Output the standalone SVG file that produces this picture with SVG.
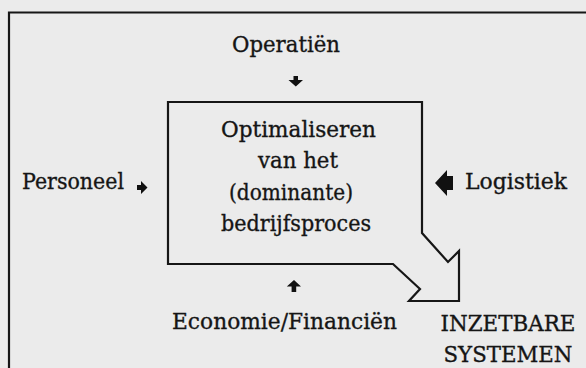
<svg xmlns="http://www.w3.org/2000/svg" width="586" height="368" viewBox="0 0 586 368">
<style>
.t{font-family:"DejaVu Serif","Liberation Serif",serif;font-size:22.5px;fill:#151515;stroke:#151515;stroke-width:0.35;text-anchor:middle}
.ln{fill:none;stroke:#161616;stroke-width:2.2;stroke-linejoin:miter}
.ar{fill:#111;stroke:none}
</style>
<rect width="586" height="368" fill="#ebebeb"/>
<path class="ln" d="M586,12.5 L9,12.5 L9,368" stroke-width="2.6"/>
<g id="operaties">
<text class="t" x="286" y="52" textLength="108" lengthAdjust="spacingAndGlyphs">Operatiën</text>
</g>
<g id="proces">
<path class="ln" d="M168,102 L422,102 L422,233 L448,262 L459,251 L459,301 L409,301 L420,289 L393,264 L168,264 Z"/>
<text class="t" x="298.5" y="137" textLength="155" lengthAdjust="spacingAndGlyphs">Optimaliseren</text>
<text class="t" x="298" y="168" textLength="80" lengthAdjust="spacingAndGlyphs">van het</text>
<text class="t" x="291" y="200" textLength="124" lengthAdjust="spacingAndGlyphs">(dominante)</text>
<text class="t" x="296" y="231" textLength="150" lengthAdjust="spacingAndGlyphs">bedrijfsproces</text>
</g>
<g id="personeel">
<text class="t" x="73" y="189" textLength="102" lengthAdjust="spacingAndGlyphs">Personeel</text>
</g>
<g id="logistiek">
<text class="t" x="516" y="189" textLength="102" lengthAdjust="spacingAndGlyphs">Logistiek</text>
</g>
<g id="economie">
<text class="t" x="284.5" y="329" textLength="225" lengthAdjust="spacingAndGlyphs">Economie/Financiën</text>
</g>
<g id="inzetbare-systemen">
<text class="t" x="508" y="331" textLength="135" lengthAdjust="spacingAndGlyphs">INZETBARE</text>
<text class="t" x="508" y="362" textLength="129" lengthAdjust="spacingAndGlyphs">SYSTEMEN</text>
</g>
<g id="connectors">
<path class="ar" d="M293.5,76 h4.5 v4 h5 l-7.2,6.5 l-7.3,-6.5 h5 z"/>
<path class="ar" d="M294,280 l7,6.5 h-4.8 v5.5 h-4.6 v-5.5 h-4.8 z"/>
<path class="ar" d="M137,185 h4 v-4 l6.5,6.5 l-6.5,6.5 v-4 h-4 z"/>
<path class="ar" d="M435,183 l12,-13 v6 h6 v14 h-6 v6 z"/>
</g>
</svg>
